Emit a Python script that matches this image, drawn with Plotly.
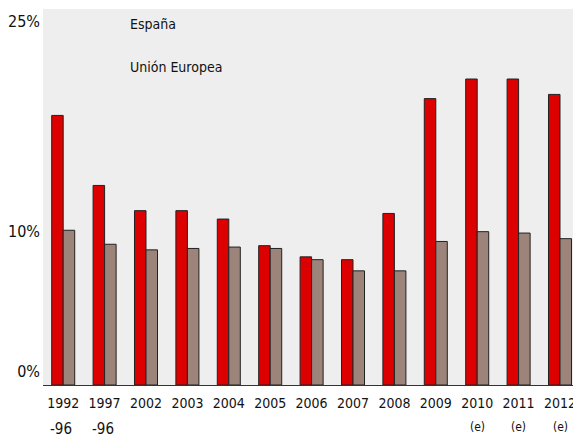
import plotly.graph_objects as go

years = ['1992', '1997', '2002', '2003', '2004', '2005', '2006',
         '2007', '2008', '2009', '2010', '2011', '2012']
second_line = ['-96', '-96', '', '', '', '', '', '', '', '', '(e)', '(e)', '(e)']
espana = [18.3, 13.3, 11.5, 11.5, 10.9, 9.0, 8.2, 8.0, 11.3, 19.5, 20.9, 20.9, 19.8]
ue = [10.1, 9.1, 8.7, 8.8, 8.9, 8.8, 8.0, 7.2, 7.2, 9.3, 10.0, 9.9, 9.5]
y_ticks = [0, 10, 25]
y_labels = ['0%', '10%', '25%']

# the bars in the original run a little below the 0% label
Y_FLOOR = -0.95
Y_TOP = 25.9

cond = 'DejaVu Sans Condensed, DejaVu Sans, sans-serif'

fig = go.Figure()
fig.add_trace(go.Bar(
    x=years, y=[v - Y_FLOOR for v in espana], base=Y_FLOOR, name='España',
    marker=dict(color='#DD0000', line=dict(color='#222222', width=1)),
))
fig.add_trace(go.Bar(
    x=years, y=[v - Y_FLOOR for v in ue], base=Y_FLOOR, name='Unión Europea',
    marker=dict(color='#9C847A', line=dict(color='#222222', width=1)),
))

# second line of the year labels
for i, txt in enumerate(second_line):
    if not txt:
        continue
    big = txt == '-96'
    fig.add_annotation(
        x=i, xref='x', y=-0.117 if big else -0.112, yref='paper',
        xshift=-2 if big else 0,
        text=txt, showarrow=False, yanchor='middle',
        font=dict(family=cond, size=15 if big else 12, color='#111111'),
    )

fig.add_annotation(x=0.16, xref='paper', y=0.960, yref='paper', text='España',
                   showarrow=False, xanchor='left', yanchor='middle',
                   font=dict(family=cond, size=14, color='#111111'))
fig.add_annotation(x=0.16, xref='paper', y=0.846, yref='paper', text='Unión Europea',
                   showarrow=False, xanchor='left', yanchor='middle',
                   font=dict(family=cond, size=14, color='#111111'))

fig.update_layout(
    width=573, height=434,
    margin=dict(l=43, r=0, t=9, b=49),
    paper_bgcolor='white', plot_bgcolor='#EEEEEE',
    barmode='group', bargap=0.444, bargroupgap=0,
    showlegend=False,
    xaxis=dict(type='category', range=[-0.488, 12.314], showgrid=False,
               automargin=False,
               showline=True, linecolor='#333333', linewidth=1,
               ticks='', ticklabelstandoff=5,
               tickfont=dict(family=cond, size=14, color='#111111')),
    yaxis=dict(range=[Y_FLOOR, Y_TOP], showgrid=False, zeroline=False,
               automargin=False,
               tickvals=y_ticks, ticktext=y_labels, ticks='',
               ticklabelstandoff=2,
               tickfont=dict(family=cond, size=16, color='#111111')),
)

fig.write_html('out.html', config={'displayModeBar': False},
               post_script="document.body.style.margin='0';")
